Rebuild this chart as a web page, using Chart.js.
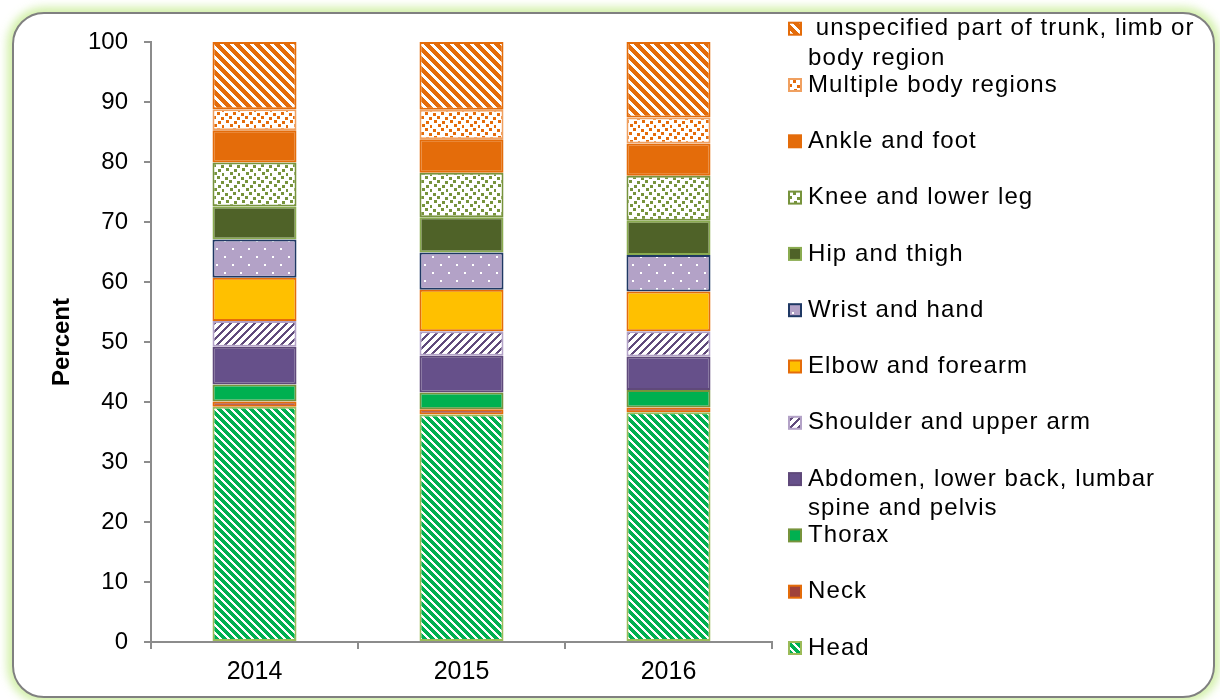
<!DOCTYPE html>
<html>
<head>
<meta charset="utf-8">
<script src="https://cdn.jsdelivr.net/npm/chart.js@4.4.1/dist/chart.umd.min.js"></script>
<style>
  html, body { margin: 0; padding: 0; background: #fff; }
  #wrap { position: relative; width: 1220px; height: 700px; overflow: hidden; }
  #frame {
    position: absolute; left: 12px; top: 12px; width: 1199px; height: 682px;
    border: 2px solid #808080; border-radius: 32px; background: #fff;
    box-shadow: 0 0 8px 5px rgba(200, 236, 150, 0.8);
  }
  #plot { position: absolute; left: 0; top: 0; }
</style>
</head>
<body>
<div id="wrap">
  <div id="frame"></div>
  <canvas id="plot" width="1220" height="700"></canvas>
</div>
<script>
// Share of injuries by body region, per year (percent, stacks to 100)
const years = ['2014', '2015', '2016'];
const head = [39.2, 37.9, 38.3];
const neck = [0.9, 0.9, 0.8];
const thorax = [2.8, 2.8, 2.9];
const abdomen = [6.3, 6.1, 5.6];
const shoulder = [4.3, 4.1, 4.2];
const elbow = [7.2, 6.9, 6.6];
const wrist = [6.4, 6.2, 6.1];
const hip = [5.5, 5.9, 5.7];
const knee = [7.3, 7.4, 7.5];
const ankle = [5.4, 5.6, 5.4];
const multiple = [3.5, 4.9, 4.3];
const unspecified = [11.2, 11.3, 12.6];

// Legend text, one entry per line
const regionNames = [
  ['Head'],
  ['Neck'],
  ['Thorax'],
  ['Abdomen, lower back, lumbar', 'spine and pelvis'],
  ['Shoulder and upper arm'],
  ['Elbow and forearm'],
  ['Wrist and hand'],
  ['Hip and thigh'],
  ['Knee and lower leg'],
  ['Ankle and foot'],
  ['Multiple body regions'],
  [' unspecified part of trunk, limb or', 'body region']
];

const FONT = '"Liberation Sans", Arial, sans-serif';
const AXIS_GREY = '#8c8c8c';

// Builds a small tile and turns it into a repeating fill
function makePattern(size, bg, fg, paint) {
  const c = document.createElement('canvas');
  c.width = size;
  c.height = size;
  const g = c.getContext('2d');
  g.fillStyle = bg;
  g.fillRect(0, 0, size, size);
  g.fillStyle = fg;
  paint(g, size);
  return g.createPattern(c, 'repeat');
}

// Diagonal stripes going down to the right
function downStripes(width) {
  return (g, size) => {
    for (let y = 0; y < size; y++) {
      for (let k = 0; k < width; k++) {
        g.fillRect((y + k) % size, y, 1, 1);
      }
    }
  };
}

// Diagonal stripes going up to the right
function upStripes(width) {
  return (g, size) => {
    for (let y = 0; y < size; y++) {
      for (let k = 0; k < width; k++) {
        g.fillRect((size * 2 - y + k) % size, y, 1, 1);
      }
    }
  };
}

// Scattered small squares
function confetti(g) {
  const spots = [[1, 1], [9, 0], [5, 4], [13, 5], [2, 8], [10, 9], [6, 12], [14, 13]];
  spots.forEach(([x, y]) => g.fillRect(x, y, 3, 3));
}

function dots(g) {
  g.fillRect(0, 0, 2, 2);
  g.fillRect(8, 8, 2, 2);
}

const plotCtx = document.getElementById('plot').getContext('2d');

const styles = [
  { bg: makePattern(8, '#fff', '#00b050', downStripes(5)), border: '#9bbb59' },
  { bg: '#a0413a', border: '#e46c0a' },
  { bg: '#00b050', border: '#77933c' },
  { bg: '#66508a', border: '#5f497a' },
  { bg: makePattern(8, '#fff', '#604a7b', upStripes(3)), border: '#b3a2c7' },
  { bg: '#ffc000', border: '#e46c0a' },
  { bg: makePattern(16, '#b3a2c7', '#fff', dots), border: '#1f3864' },
  { bg: '#4f6228', border: '#8aab50' },
  { bg: makePattern(16, '#fff', '#77933c', confetti), border: '#77933c' },
  { bg: '#e46c0a', border: '#e46c0a' },
  { bg: makePattern(16, '#fff', '#e46c0a', confetti), border: '#f0a060' },
  { bg: makePattern(10, '#fff', '#e46c0a', downStripes(6)), border: '#e46c0a' }
];

const series = [head, neck, thorax, abdomen, shoulder, elbow, wrist, hip, knee, ankle, multiple, unspecified];

const datasets = series.map((values, i) => ({
  label: regionNames[i].join(' '),
  data: values,
  backgroundColor: styles[i].bg,
  borderColor: styles[i].border,
  borderWidth: 2,
  borderSkipped: false,
  categoryPercentage: 1,
  barPercentage: 0.406
}));

// Legend on the right, Head at the bottom and working upwards
const sideLegend = {
  id: 'sideLegend',
  afterDraw(chart) {
    const ctx = chart.ctx;
    const step = 56.3;
    ctx.save();
    ctx.font = '24px ' + FONT;
    ctx.letterSpacing = '1.1px';
    ctx.textBaseline = 'middle';
    chart.data.datasets.forEach((ds, i) => {
      const y = 648 - i * step;
      ctx.fillStyle = ds.backgroundColor;
      ctx.fillRect(789, y - 6, 12, 12);
      ctx.strokeStyle = ds.borderColor;
      ctx.lineWidth = 2;
      ctx.strokeRect(789, y - 6, 12, 12);
      ctx.fillStyle = '#000';
      regionNames[i].forEach((line, j) => {
        ctx.fillText(line, 808, y + j * 29.5);
      });
    });
    ctx.restore();
  }
};

new Chart(plotCtx, {
  type: 'bar',
  data: { labels: years, datasets: datasets },
  options: {
    responsive: false,
    animation: false,
    layout: { padding: { top: 42, right: 448, left: 0, bottom: 0 } },
    plugins: {
      legend: { display: false },
      tooltip: { enabled: false }
    },
    scales: {
      x: {
        stacked: true,
        grid: { display: true, drawOnChartArea: false, offset: true, tickLength: 7, color: AXIS_GREY, lineWidth: 2 },
        border: { display: true, color: AXIS_GREY, width: 2 },
        ticks: { color: '#000', font: { family: FONT, size: 25 }, padding: 8 },
        afterFit: (scale) => { scale.height = 58; }
      },
      y: {
        stacked: true,
        min: 0,
        max: 100,
        ticks: { stepSize: 10, color: '#000', font: { family: FONT, size: 24 }, padding: 16 },
        grid: { display: true, drawOnChartArea: false, tickLength: 7, color: AXIS_GREY, lineWidth: 2 },
        border: { display: true, color: AXIS_GREY, width: 2 },
        title: {
          display: true,
          text: 'Percent',
          color: '#000',
          font: { family: FONT, size: 24, weight: 'bold' },
          padding: { top: 48, bottom: 0 }
        },
        afterFit: (scale) => { scale.width = 151; }
      }
    }
  },
  plugins: [sideLegend]
});
</script>
</body>
</html>
